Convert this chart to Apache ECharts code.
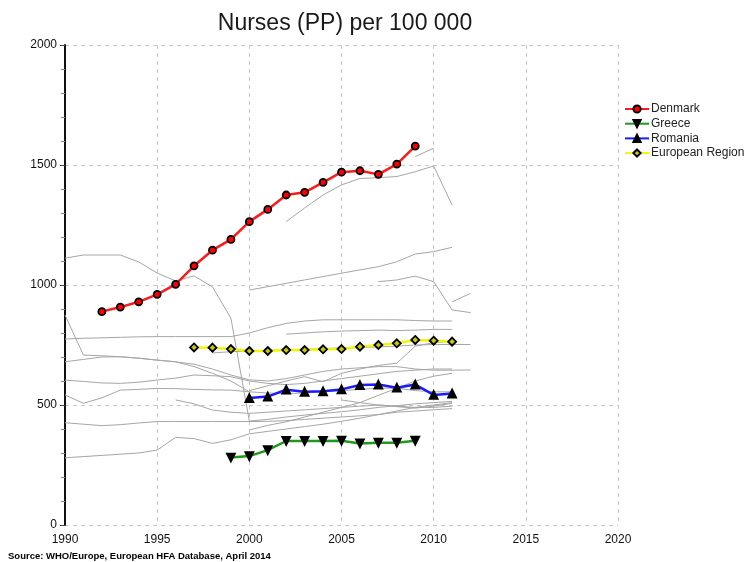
<!DOCTYPE html>
<html>
<head>
<meta charset="utf-8">
<script src="https://cdn.jsdelivr.net/npm/echarts@6/dist/echarts.min.js"></script>
<style>
  html, body { margin: 0; padding: 0; background: #fff; }
  #chart { width: 748px; height: 562px; }
</style>
</head>
<body>
<div id="chart"></div>
<script>
// years 1990..2012
var years = [1990,1991,1992,1993,1994,1995,1996,1997,1998,1999,2000,2001,2002,2003,2004,2005,2006,2007,2008,2009,2010,2011,2012];
var _ = null;

var denmark  = [_,_,889,908,930,961,1003,1080,1145,1190,1264,1315,1375,1386,1428,1470,1476,1461,1504,1579,_,_,_];
var greece   = [_,_,_,_,_,_,_,_,_,281,287,312,350,350,350,351,340,343,343,351,_,_,_];
var romania  = [_,_,_,_,_,_,_,_,_,_,529,535,564,555,557,565,583,585,572,585,542,548,_];
var euRegion = [_,_,_,_,_,_,_,740,739,733,725,725,729,729,732,733,743,750,757,771,768,764,_];

// other countries (grey background lines)
var others = [
  [1112,1125,1125,1125,1096,1050,1017,1038,992,862,433,440,450,458,465,472,480,490,497,505,510,515,_],
  [875,708,705,701,695,687,680,660,632,600,555,_,_,_,_,_,_,_,_,_,_,_,_],
  [775,778,780,782,784,785,785,785,785,785,800,822,840,850,855,855,855,855,855,852,850,850,_],
  [680,690,700,701,695,687,680,670,650,625,605,600,610,625,640,650,655,660,660,650,645,645,646],
  [604,598,592,590,595,604,612,625,622,618,600,590,585,590,600,610,620,630,640,645,650,650,_],
  [542,507,530,562,565,569,568,565,563,562,555,550,548,550,555,560,565,570,570,560,555,555,_],
  [426,420,414,418,425,431,431,431,431,431,431,432,435,440,445,450,455,460,470,475,480,485,_],
  [280,285,290,295,300,312,365,360,340,355,380,390,400,410,420,432,445,460,475,490,500,510,_],
  [_,_,_,_,_,_,521,505,479,470,465,470,475,480,485,490,495,500,495,490,490,495,_],
  [_,_,_,_,_,_,_,_,_,_,979,993,1007,1021,1035,1049,1063,1076,1097,1129,1139,1157,_],
  [_,_,_,_,_,_,_,_,_,_,_,_,1264,1321,1375,1417,1444,1447,1452,1472,1496,1333,_],
  [_,_,_,_,_,_,_,_,_,_,_,_,_,_,_,_,_,_,_,1535,1570,_,_],
  [_,_,_,_,_,_,_,_,_,_,_,_,_,_,_,_,_,1014,1021,1037,1014,896,885],
  [_,_,_,_,_,_,_,_,_,_,_,_,_,_,_,_,_,_,_,_,_,930,965],
  [_,_,_,_,_,_,_,_,717,722,725,728,730,732,735,738,740,742,745,750,752,752,752],
  [_,_,_,_,_,_,_,_,_,_,396,415,430,450,470,490,510,540,570,600,620,632,_],
  [_,_,_,_,_,_,_,_,_,_,560,580,600,618,597,632,650,665,674,745,760,765,_],
  [_,_,_,_,_,_,_,_,_,_,_,_,795,800,805,808,810,812,810,812,815,815,_],
  [_,_,_,_,_,_,_,_,_,_,_,_,_,_,_,521,510,500,493,487,495,507,_]
];

var xTicks = [1990, 2020, 5];
var yTicks = [0, 2000, 500];
var font = '"Liberation Sans", Arial, sans-serif';

function pairs(vals) {
  return years.map(function (y, i) { return [y, vals[i] == null ? '-' : vals[i]]; });
}

var series = others.map(function (vals, i) {
  return {
    name: 'other' + i,
    type: 'line',
    data: pairs(vals),
    symbol: 'none',
    silent: true,
    z: 1,
    lineStyle: { color: '#a6a6a6', width: 1 }
  };
});

function mainLine(name, vals, color, symbol, size, fill) {
  return {
    name: name,
    type: 'line',
    data: pairs(vals),
    symbol: symbol,
    symbolSize: size,
    z: 5,
    lineStyle: { color: color, width: 2.5 },
    itemStyle: { color: fill, borderColor: '#000', borderWidth: 1.8 }
  };
}

series.push(mainLine('Denmark', denmark, '#ff1a1a', 'circle', 7, '#ff0000'));
series.push(mainLine('Greece', greece, '#1e9a1e', 'path://M0,0 L10,0 L5,9 Z', 8, '#000'));
series.push(mainLine('Romania', romania, '#1a1aff', 'triangle', 8, '#000'));
series.push(mainLine('European Region', euRegion, '#f5f500', 'diamond', 8, '#c8c800'));

var chart = echarts.init(document.getElementById('chart'), null, { renderer: 'canvas' });
chart.setOption({
  animation: false,
  backgroundColor: '#fff',
  textStyle: { fontFamily: font },
  title: {
    text: 'Nurses (PP) per 100 000',
    left: 340,
    top: 7,
    textAlign: 'center',
    textStyle: { fontSize: 23, fontWeight: 'normal', color: '#1a1a1a', fontFamily: font }
  },
  legend: {
    data: ['Denmark', 'Greece', 'Romania', 'European Region'],
    orient: 'vertical',
    left: 619,
    top: 98,
    itemWidth: 24,
    itemHeight: 9,
    itemGap: 2.7,
    textStyle: { fontSize: 12, color: '#222', fontFamily: font, padding: [0, 0, 0, -3] }
  },
  graphic: [{
    type: 'text',
    left: 8,
    top: 551,
    style: {
      text: 'Source: WHO/Europe, European HFA Database, April 2014',
      font: 'bold 9.5px ' + font,
      fill: '#000'
    }
  }],
  grid: { left: 65, right: 130, top: 45, bottom: 37 },
  xAxis: {
    type: 'value',
    min: xTicks[0],
    max: xTicks[1],
    interval: xTicks[2],
    axisLine: { show: false },
    axisTick: { show: false },
    axisLabel: { fontSize: 12, color: '#111', margin: 9, fontFamily: font, formatter: function (v) { return String(v); } },
    splitLine: { show: true, lineStyle: { type: [4, 4], color: '#c8c8c8', width: 1 } }
  },
  yAxis: {
    type: 'value',
    min: yTicks[0],
    max: yTicks[1],
    interval: yTicks[2],
    axisLine: { show: true, lineStyle: { color: '#111', width: 2 } },
    axisTick: { show: true, length: 5, lineStyle: { color: '#444' } },
    minorTick: { show: true, splitNumber: 5, length: 4, lineStyle: { color: '#888' } },
    axisLabel: { fontSize: 12, color: '#111', margin: 8, fontFamily: font, formatter: function (v) { return String(v); } },
    splitLine: { show: true, lineStyle: { type: [4, 4], color: '#c8c8c8', width: 1 } }
  },
  series: series
});
</script>
</body>
</html>
